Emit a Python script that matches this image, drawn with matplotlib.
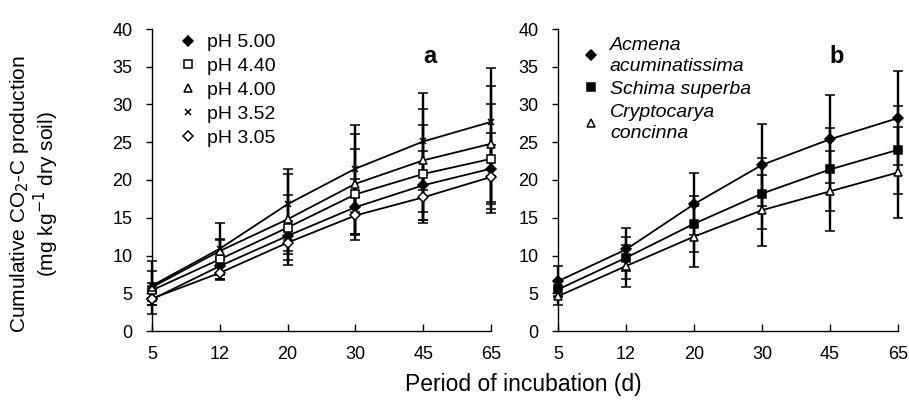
import matplotlib
matplotlib.use("Agg")
import matplotlib.pyplot as plt
from matplotlib.lines import Line2D

plt.rcParams['font.family'] = ['Liberation Sans', 'DejaVu Sans']

days = ["5", "12", "20", "30", "45", "65"]

# panel a: soil pH treatments
ph_labels = ["pH 5.00", "pH 4.40", "pH 4.00", "pH 3.52", "pH 3.05"]
ph500 = [4.2, 8.6, 12.6, 16.4, 19.3, 21.5]
ph440 = [5.4, 9.5, 13.7, 18.1, 20.8, 22.8]
ph400 = [5.8, 10.6, 14.8, 19.5, 22.6, 24.8]
ph352 = [6.0, 10.9, 16.8, 21.5, 25.1, 27.7]
ph305 = [4.3, 7.7, 11.7, 15.3, 17.7, 20.4]
ph500_err = [0.8, 1.2, 2.0, 3.7, 4.6, 4.7]
ph440_err = [1.0, 2.6, 4.3, 6.0, 6.5, 7.2]
ph400_err = [3.5, 3.7, 6.0, 6.6, 6.8, 7.7]
ph352_err = [2.0, 1.3, 4.7, 5.8, 6.4, 7.2]
ph305_err = [0.8, 1.0, 1.5, 2.5, 3.0, 4.2]

# panel b: tree species
sp_labels = ["Acmena\nacuminatissima", "Schima superba", "Cryptocarya\nconcinna"]
acmena = [6.6, 10.8, 16.8, 22.0, 25.4, 28.2]
schima = [5.5, 9.7, 14.2, 18.2, 21.4, 24.0]
crypto = [4.6, 8.6, 12.5, 16.0, 18.5, 21.0]
acmena_err = [2.0, 2.8, 4.1, 5.4, 5.8, 6.2]
schima_err = [1.0, 2.8, 3.7, 4.7, 5.5, 5.8]
crypto_err = [1.1, 2.8, 4.0, 4.7, 5.3, 6.0]

W, H = 909, 405
fig = plt.figure(figsize=(W / 100, H / 100), dpi=100)

def px_axes(x0, x1, y0, y1):
    return fig.add_axes([x0 / W, 1 - y1 / H, (x1 - x0) / W, (y1 - y0) / H])

ax_a = px_axes(152, 491, 29, 331)
ax_b = px_axes(558, 898, 29, 331)

xs = list(range(len(days)))

def draw(ax, series, errs, styles):
    for y, e, (m, fc, ms) in zip(series, errs, styles):
        ax.errorbar(xs, y, yerr=e, color='black', ecolor='black', lw=1.3,
                    elinewidth=1.7, capsize=3.5, capthick=1.7, marker=m,
                    mfc=fc, mec='black', ms=ms, mew=1.1, clip_on=False, zorder=3)

def style_axes(ax):
    ax.set_xlim(0, len(days) - 1)
    ax.set_ylim(0, 40)
    ax.set_yticks(range(0, 41, 5))
    ax.set_xticks(xs)
    ax.set_xticklabels(days)
    for s in ['top', 'right']:
        ax.spines[s].set_visible(False)
    for s in ['left', 'bottom']:
        ax.spines[s].set_linewidth(1.0)
    ax.tick_params(axis='y', direction='out', length=4, width=1, labelsize=13, pad=10)
    ax.tick_params(axis='x', direction='in', length=5, width=1, labelsize=13, pad=11)

styles_a = [('D', 'black', 5.5), ('s', 'white', 6), ('^', 'white', 6),
            ('x', 'black', 5), ('D', 'white', 5.5)]
draw(ax_a, [ph500, ph440, ph400, ph352, ph305],
     [ph500_err, ph440_err, ph400_err, ph352_err, ph305_err], styles_a)
style_axes(ax_a)
handles_a = [Line2D([], [], ls='none', marker=m, mfc=fc, mec='black', ms=ms - 0.5,
                    mew=1.1, color='black') for m, fc, ms in styles_a]
ax_a.legend(handles_a, ph_labels, loc='upper left', bbox_to_anchor=(0.06, 1.01),
            frameon=False, fontsize=14, handlelength=0.8, handletextpad=0.6,
            labelspacing=0.32, borderaxespad=0.0)
ax_a.text(0.82, 0.91, "a", transform=ax_a.transAxes, fontsize=17,
          fontweight='bold', ha='center', va='center')

styles_b = [('D', 'black', 5.5), ('s', 'black', 6), ('^', 'white', 6)]
draw(ax_b, [acmena, schima, crypto], [acmena_err, schima_err, crypto_err], styles_b)
style_axes(ax_b)
handles_b = [Line2D([], [], ls='none', marker=m, mfc=fc, mec='black', ms=ms - 0.5,
                    mew=1.1, color='black') for m, fc, ms in styles_b]
leg_b = ax_b.legend(handles_b, sp_labels, loc='upper left', bbox_to_anchor=(0.05, 1.0),
                    frameon=False, handlelength=0.8, handletextpad=0.6,
                    labelspacing=0.3, borderaxespad=0.0,
                    prop={'style': 'italic', 'size': 14})
for t in leg_b.get_texts():
    t.set_linespacing(1.3)
ax_b.text(0.82, 0.91, "b", transform=ax_b.transAxes, fontsize=17,
          fontweight='bold', ha='center', va='center')

fig.text(20 / W, 1 - 194 / H, "Cumulative CO$_2$-C production", rotation=90,
         ha='center', va='center', fontsize=15)
fig.text(46 / W, 1 - 194 / H, "(mg kg$^{-1}$ dry soil)", rotation=90,
         ha='center', va='center', fontsize=15)
fig.text(523 / W, 1 - 385 / H, "Period of incubation (d)", ha='center',
         va='center', fontsize=16.5)

fig.savefig("out.png", dpi=100)
